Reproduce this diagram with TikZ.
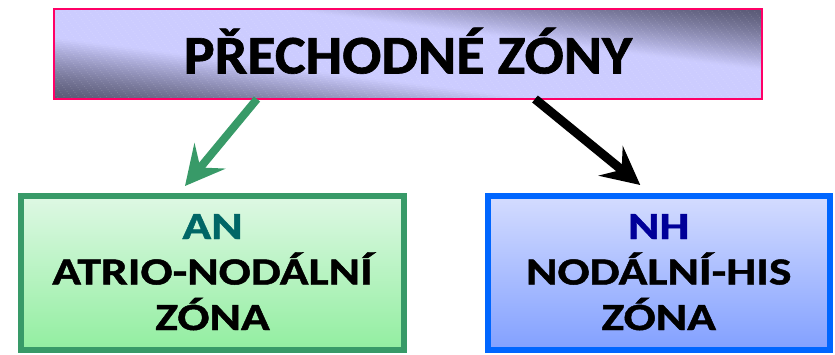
\documentclass[tikz,border=0pt]{standalone}
\usepackage{fontspec}
\setmainfont{Carlito}
\newfontfamily\titlefont{Carlito}[FakeStretch=1.065,FakeBold=1.2]
\newfontfamily\lowfont{Carlito}[FakeStretch=1.24,FakeBold=1.2]
\usetikzlibrary{arrows.meta}
\definecolor{tlight}{RGB}{204,204,255}
\definecolor{tdark}{RGB}{90,90,118}
\definecolor{pinkborder}{RGB}{255,0,102}
\definecolor{gborder}{RGB}{56,154,104}
\definecolor{gtop}{RGB}{222,248,228}
\definecolor{gbottom}{RGB}{146,238,160}
\definecolor{antext}{RGB}{0,102,102}
\definecolor{bborder}{RGB}{0,102,255}
\definecolor{btop}{RGB}{212,220,255}
\definecolor{bbottom}{RGB}{130,160,255}
\definecolor{nhtext}{RGB}{0,0,153}
\begin{document}
\begin{tikzpicture}[x=1pt,y=-1pt,
  topbox/.style={draw=pinkborder, line width=2pt,
    minimum width=708pt, minimum height=90pt, inner sep=0pt, outer sep=0pt,
    text height=39pt, text depth=0pt, font=\titlefont\fontsize{54.5}{54.5}\selectfont\bfseries},
  lowbox/.style={line width=6pt, inner sep=0pt, outer sep=0pt, minimum height=154pt,
    align=center, text height=118.5pt, text depth=4.5pt,
    font=\lowfont\fontsize{38.4}{45.5}\selectfont\bfseries},
  anbox/.style={lowbox, draw=gborder, top color=gtop, bottom color=gbottom, minimum width=383pt},
  nhbox/.style={lowbox, draw=bborder, top color=btop, bottom color=bbottom, minimum width=341.5pt},
  garrow/.style={draw=gborder, line width=8pt, -{Stealth[length=39pt,width=40pt,inset=15pt]}},
  karrow/.style={draw=black, line width=9pt, -{Stealth[length=38pt,width=38pt,inset=14pt]}}
]
\useasboundingbox (0,0) rectangle (835,354);
% diagonal gradient fill of the title box
\begin{scope}
  \clip (54,9) rectangle (762,99);
  \foreach \i in {0,...,99} {
    \pgfmathsetmacro\ca{-1+\i/50}
    \pgfmathsetmacro\cb{\ca+0.024}
    \pgfmathsetmacro\sv{(\ca+0.01+1)/2}
    \pgfmathsetmacro\tv{min(1,min(\sv,1-\sv)/0.34)}
    \pgfmathsetmacro\pv{100*(\tv^1.3)}
    \fill[tlight!\pv!tdark] (54+708*\ca,9) -- (54+708*\cb,9) -- (762+708*\cb,99) -- (762+708*\ca,99) -- cycle;
  }
\end{scope}
\node[topbox] (top) at (408,54) {PŘECHODNÉ ZÓNY};
\node[anbox] (an) at (212.5,273) {{\color{antext}AN}\\ATRIO-NODÁLNÍ\\ZÓNA};
\node[nhbox] (nh) at (658.75,273) {{\color{nhtext}NH}\\NODÁLNÍ-HIS\\ZÓNA};
\draw[garrow] ([xshift=-151pt]top.south) -- ([xshift=-27.5pt,yshift=10pt]an.north);
\draw[karrow] ([xshift=127pt]top.south) -- ([xshift=-18.5pt,yshift=11pt]nh.north);
\end{tikzpicture}
\end{document}
